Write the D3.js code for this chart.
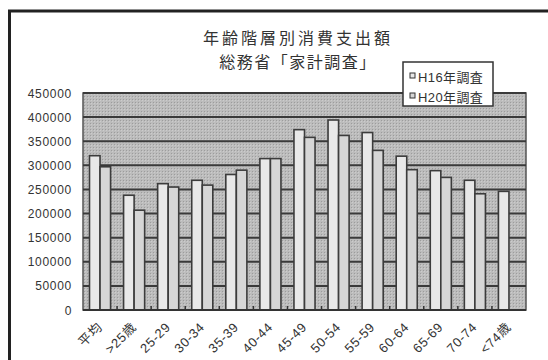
<!DOCTYPE html>
<html><head><meta charset="utf-8">
<script src="https://cdn.jsdelivr.net/npm/d3@7"></script>
<style>
html,body{margin:0;padding:0;background:#fff;}
svg{display:block;}
text{font-family:"Liberation Sans","Noto Sans CJK JP",sans-serif;}
</style></head>
<body>
<svg id="c" width="548" height="360"></svg>
<script>
const titleLines = ["年齢階層別消費支出額", "総務省「家計調査」"];
const categories = ["平均", ">25歳", "25-29", "30-34", "35-39", "40-44", "45-49", "50-54", "55-59", "60-64", "65-69", "70-74", "<74歳"];
const seriesNames = ["H16年調査", "H20年調査"];
const h16 = [320000, 238000, 262000, 269000, 281000, 314000, 374000, 394000, 368000, 319000, 289000, 269000, 246000];
const h20 = [297000, 207000, 255000, 259000, 290000, 314000, 358000, 362000, 331000, 291000, 275000, 241000, null];
const yTicks = [0, 50000, 100000, 150000, 200000, 250000, 300000, 350000, 400000, 450000];

const svg = d3.select("#c");
const defs = svg.append("defs");
const pat = defs.append("pattern").attr("id","dots").attr("patternUnits","userSpaceOnUse")
  .attr("width",3).attr("height",3);
pat.append("rect").attr("width",3).attr("height",3).attr("fill","#bcbcbc");
pat.append("rect").attr("width",1).attr("height",1).attr("fill","#9c9c9c");
pat.append("rect").attr("x",1).attr("y",1).attr("width",1).attr("height",1).attr("fill","#cccccc");

// outer frame
svg.append("rect").attr("x",9.5).attr("y",11).attr("width",600).attr("height",400)
  .attr("fill","#fff").attr("stroke","#222").attr("stroke-width",3);

const L = 83, R = 526, T = 93, B = 310;
const x = d3.scaleBand().domain(categories).range([L, R]).padding(0);
const xs = d3.scaleBand().domain(seriesNames).range([6.5, x.bandwidth() - 6.5]).padding(0);
const y = d3.scaleLinear().domain([0, 450000]).range([B, T]);

// plot background
svg.append("rect").attr("x",L).attr("y",T).attr("width",R-L).attr("height",B-T)
  .attr("fill","url(#dots)").attr("stroke","#555").attr("stroke-width",1.5);

// gridlines
svg.append("g").selectAll("line").data(yTicks.filter(d=>d>0)).join("line")
  .attr("x1",L).attr("x2",R).attr("y1",d=>y(d)).attr("y2",d=>y(d))
  .attr("stroke","#3a3a3a").attr("stroke-width",2);

// bars
const rows = categories.map((c,i)=>({c, vals:[h16[i], h20[i]]}));
const colors = ["#e8e8e8", "#d6d6d6"];
const g = svg.append("g").selectAll("g").data(rows).join("g")
  .attr("transform", d=>`translate(${x(d.c)},0)`);
g.selectAll("rect").data(d=>d.vals.map((v,j)=>({v, s:seriesNames[j], j})).filter(e=>e.v!=null)).join("rect")
  .attr("x",e=>xs(e.s)).attr("width",xs.bandwidth())
  .attr("y",e=>y(e.v)).attr("height",e=>B-y(e.v))
  .attr("fill",e=>colors[e.j]).attr("stroke","#3c3c3c").attr("stroke-width",1.6);

// x axis line and ticks
svg.append("line").attr("x1",L).attr("x2",R).attr("y1",B).attr("y2",B)
  .attr("stroke","#333").attr("stroke-width",2);
svg.append("g").selectAll("line").data(categories.slice(1)).join("line")
  .attr("x1",d=>x(d)).attr("x2",d=>x(d)).attr("y1",B).attr("y2",B-4)
  .attr("stroke","#333").attr("stroke-width",1.5);

// y labels
svg.append("g").selectAll("text").data(yTicks).join("text")
  .attr("x",72).attr("y",d=>y(d)+4.5).attr("text-anchor","end")
  .attr("font-size",12).attr("letter-spacing",0.7).attr("fill","#333")
  .text(d=>d3.format("d")(d));

// x labels
svg.append("g").selectAll("text").data(categories).join("text")
  .attr("transform",d=>`translate(${x(d)+x.bandwidth()/2+3},${B+18}) rotate(-45)`)
  .attr("text-anchor","end").attr("font-size",13).attr("letter-spacing",0.6).attr("fill","#333")
  .text(d=>d);

// title
svg.append("g").selectAll("text").data(titleLines).join("text")
  .attr("x",298).attr("y",(d,i)=>44+i*24).attr("text-anchor","middle")
  .attr("font-family","Noto Sans CJK JP").attr("font-size",16).attr("letter-spacing",(d,i)=>i?1.5:3)
  .attr("fill","#333").text(d=>d);

// legend
const lg = svg.append("g");
lg.append("rect").attr("x",403).attr("y",62).attr("width",90).attr("height",44)
  .attr("fill","#fff").attr("stroke","#333").attr("stroke-width",1.5);
const li = lg.selectAll("g").data(seriesNames).join("g")
  .attr("transform",(d,i)=>`translate(410,${77+i*20})`);
li.append("rect").attr("x",0).attr("y",-4).attr("width",5).attr("height",5)
  .attr("fill",(d,i)=>colors[i]).attr("stroke","#333").attr("stroke-width",1);
li.append("text").attr("x",8).attr("y",4.5).attr("font-size",13).attr("letter-spacing",0.4).attr("fill","#333")
  .attr("font-family","Noto Sans CJK JP").text(d=>d);
</script>
</body></html>
